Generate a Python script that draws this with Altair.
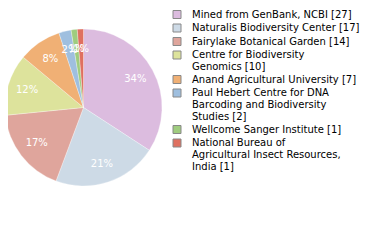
import altair as alt
import pandas as pd

labels = [
    "Mined from GenBank, NCBI [27]",
    "Naturalis Biodiversity Center [17]",
    "Fairylake Botanical Garden [14]",
    "Centre for Biodiversity\nGenomics [10]",
    "Anand Agricultural University [7]",
    "Paul Hebert Centre for DNA\nBarcoding and Biodiversity\nStudies [2]",
    "Wellcome Sanger Institute [1]",
    "National Bureau of\nAgricultural Insect Resources,\nIndia [1]",
]
counts = [27, 17, 14, 10, 7, 2, 1, 1]
pct_labels = ["34%", "21%", "17%", "12%", "8%", "2%", "1%", "1%"]
colors = ["#dcbcdf", "#cddae6", "#dfa59c", "#dde39c", "#f0b075", "#9fbfdf", "#9fcc7f", "#df7060"]

df = pd.DataFrame({
    "label": labels,
    "count": counts,
    "idx": list(range(len(labels))),
    "pct": pct_labels,
})

cx, cy, R = 75.5, 99.5, 78.5

base = alt.Chart(df).encode(
    theta=alt.Theta("count:Q", stack=True),
    order=alt.Order("idx:Q"),
)

arcs = base.mark_arc(radius=R, stroke="white", strokeWidth=0.3).encode(
    x=alt.value(cx),
    y=alt.value(cy),
    color=alt.Color(
        "label:N",
        scale=alt.Scale(domain=labels, range=colors),
        sort=labels,
        legend=alt.Legend(
            title=None,
            orient="none",
            legendX=164,
            legendY=1.5,
            symbolType="square",
            symbolSize=64,
            symbolStrokeColor="#888888",
            symbolStrokeWidth=1,
            labelFont="DejaVu Sans",
            labelFontSize=10,
            labelColor="#000000",
            labelOffset=10,
            labelLimit=300,
            rowPadding=1.5,
            labelExpr="split(datum.label, '\\n')",
        ),
    ),
)

text = base.mark_text(
    radius=59, font="DejaVu Sans", fontSize=10, color="white"
).encode(
    x=alt.value(cx),
    y=alt.value(cy),
    text="pct:N",
)

chart = (
    alt.layer(arcs, text)
    .properties(width=364, height=224, padding=0, autosize=alt.AutoSizeParams(type="none"))
    .configure_view(stroke=None)
)

chart.save("out.html", embed_options={"renderer": "svg", "actions": False})
